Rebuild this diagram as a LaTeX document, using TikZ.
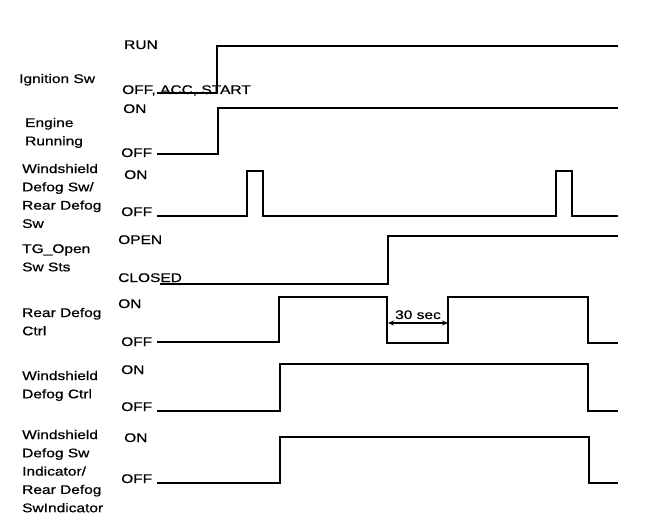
\documentclass[tikz,border=0pt]{standalone}
\usepackage{fontspec}
\setmainfont{Liberation Sans}[FakeStretch=1.24,FakeBold=0.7]
\usetikzlibrary{arrows.meta}
\newcommand\mylines[1]{\begin{tabular}[t]{@{}l@{}}#1\end{tabular}}
\begin{document}
\begin{tikzpicture}[x=1pt,y=-1pt,
  sig/.style={line width=1.8pt, line join=miter},
  lbl/.style={anchor=base west, inner sep=0pt, font=\fontsize{12.5}{18.3}\selectfont},
  st/.style={anchor=base west, inner sep=0pt, font=\fontsize{12.5}{15}\selectfont},
  dim/.style={line width=1.2pt, {Stealth[length=6pt,width=5pt]}-{Stealth[length=6pt,width=5pt]}}]
\useasboundingbox (0,0) rectangle (672,532);
% left signal labels
\node[lbl] (lIgn) at (19,83) {Ignition Sw};
\node[lbl] (lEng) at (25,127) {\mylines{Engine\\Running}};
\node[lbl] (lWsw) at (22,173) {\mylines{Windshield\\Defog Sw/\\Rear Defog\\Sw}};
\node[lbl] (lTg) at (22,253) {\mylines{TG\_Open\\Sw Sts}};
\node[lbl] (lRdc) at (22,317) {\mylines{Rear Defog\\Ctrl}};
\node[lbl] (lWdc) at (22,380) {\mylines{Windshield\\Defog Ctrl}};
\node[lbl] (lInd) at (22,439) {\mylines{Windshield\\Defog Sw\\Indicator/\\Rear Defog\\SwIndicator}};
% state labels
\node[st] (sRun) at (124,49) {RUN};
\node[st] (sOffIgn) at (122,94) {OFF, ACC, START};
\node[st] (sOnEng) at (123,113) {ON};
\node[st] (sOffEng) at (121,157) {OFF};
\node[st] (sOnWsw) at (124,179) {ON};
\node[st] (sOffWsw) at (121,216) {OFF};
\node[st] (sOpen) at (118,244) {OPEN};
\node[st] (sClosed) at (118,282) {CLOSED};
\node[st] (sOnRdc) at (118,308) {ON};
\node[st] (sOffRdc) at (121,346) {OFF};
\node[st] (sOnWdc) at (121,374) {ON};
\node[st] (sOffWdc) at (121,411) {OFF};
\node[st] (sOnInd) at (124,442) {ON};
\node[st] (sOffInd) at (121,483) {OFF};
% waveforms
\draw[sig] (157,93) -- (217,93) -- (217,46) -- (618,46);
\draw[sig] (157,154) -- (218,154) -- (218,108) -- (618,108);
\draw[sig] (157,216) -- (247,216) -- (247,171) -- (263,171) -- (263,216) -- (556,216) -- (556,171) -- (572,171) -- (572,216) -- (618,216);
\draw[sig] (160,284) -- (388,284) -- (388,236) -- (618,236);
\draw[sig] (157,342) -- (279,342) -- (279,297) -- (387,297) -- (387,343) -- (448,343) -- (448,297) -- (588,297) -- (588,343) -- (618,343);
\draw[sig] (157,411) -- (280,411) -- (280,364) -- (588,364) -- (588,411) -- (618,411);
\draw[sig] (157,483) -- (280,483) -- (280,437) -- (589,437) -- (589,483) -- (618,483);
% 30 sec dimension
\coordinate (dA) at (388,323);
\coordinate (dB) at (448,323);
\draw[dim] (dA) -- (dB);
\node[st, anchor=base] (t30) at (418,319) {30 sec};
\end{tikzpicture}
\end{document}
